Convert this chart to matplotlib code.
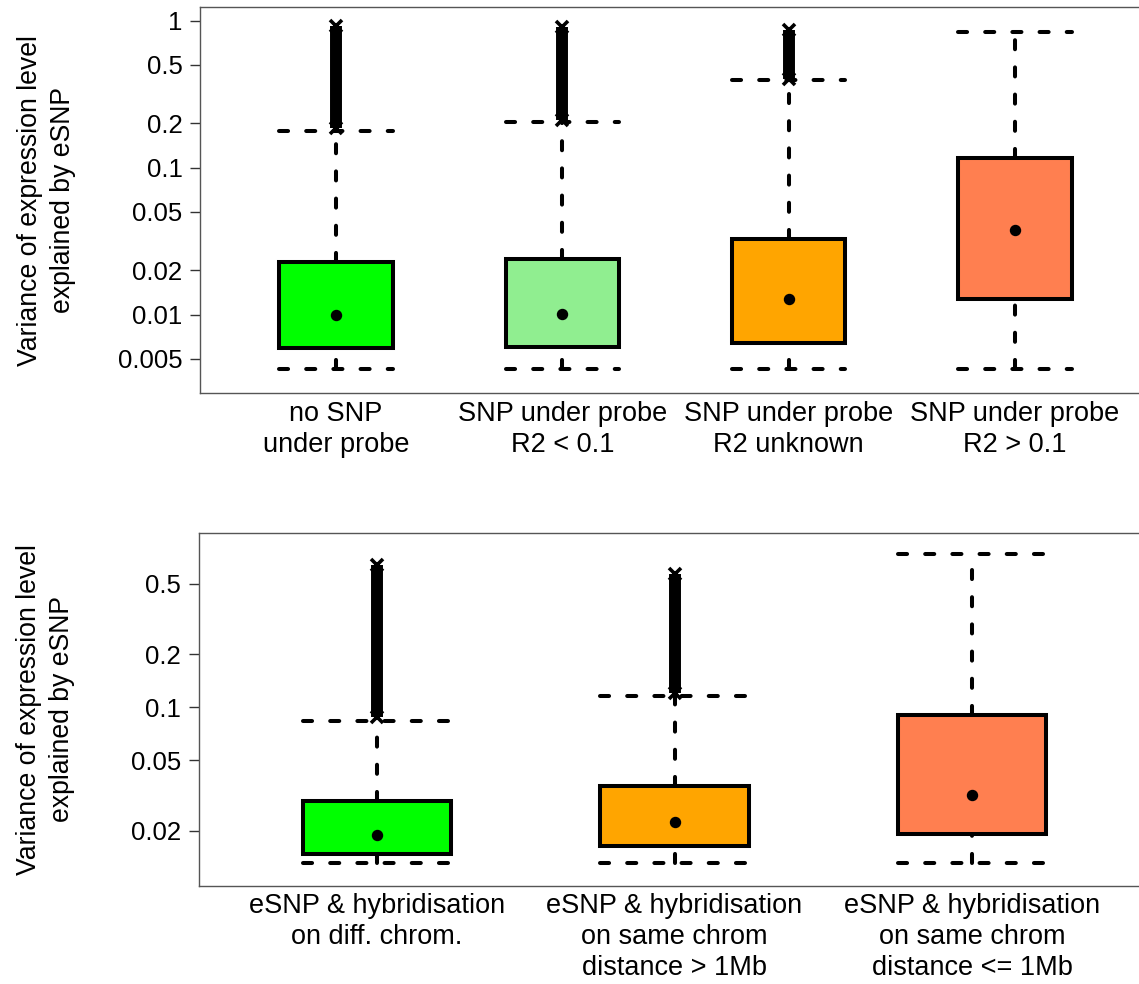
import matplotlib
matplotlib.use("Agg")
import matplotlib.pyplot as plt
from matplotlib.ticker import NullLocator, FixedLocator
import numpy as np

plt.rcParams['font.family'] = ['Liberation Sans', 'DejaVu Sans']

# ---------------- data: top panel ----------------
top_labels = ["no SNP\nunder probe", "SNP under probe\nR2 < 0.1",
              "SNP under probe\nR2 unknown", "SNP under probe\nR2 > 0.1"]
top_colors = ["#00FF00", "#90EE90", "#FFA500", "#FF7F50"]
top_whisker_lo = [0.00425, 0.00430, 0.00430, 0.00425]
top_q1 = [0.00597, 0.00600, 0.00639, 0.0127]
top_median = [0.0100, 0.0101, 0.0127, 0.0377]
top_q3 = [0.0230, 0.0239, 0.0327, 0.116]
top_whisker_hi = [0.178, 0.205, 0.395, 0.834]
top_outlier_lo = [0.185, 0.21, 0.40, None]
top_outlier_hi = [0.92, 0.90, 0.87, None]
top_yticks = [0.005, 0.01, 0.02, 0.05, 0.1, 0.2, 0.5, 1]
top_yticklabels = ["0.005", "0.01", "0.02", "0.05", "0.1", "0.2", "0.5", "1"]

# ---------------- data: bottom panel ----------------
bot_labels = ["eSNP & hybridisation\non diff. chrom.",
              "eSNP & hybridisation\non same chrom\ndistance > 1Mb",
              "eSNP & hybridisation\non same chrom\ndistance <= 1Mb"]
bot_colors = ["#00FF00", "#FFA500", "#FF7F50"]
bot_whisker_lo = [0.0131, 0.0131, 0.0131]
bot_q1 = [0.0148, 0.0164, 0.0191]
bot_median = [0.0190, 0.0225, 0.0317]
bot_q3 = [0.0293, 0.0360, 0.0910]
bot_whisker_hi = [0.084, 0.116, 0.739]
bot_outlier_lo = [0.088, 0.12, None]
bot_outlier_hi = [0.64, 0.57, None]
bot_yticks = [0.02, 0.05, 0.1, 0.2, 0.5]
bot_yticklabels = ["0.02", "0.05", "0.1", "0.2", "0.5"]

YLABEL = "Variance of expression level\nexplained by eSNP"
FS_TICK = 18.5
FS_X = 19.5
FS_Y = 19.2
LW = 2.9
DASH = (0, (2.25, 4.5))
BOXW = 0.5


def draw_panel(ax, labels, colors, wlo, q1, med, q3, whi, olo, ohi,
               yticks, yticklabels, ylim, xlim):
    pos = np.arange(1, len(labels) + 1)
    ax.set_yscale('log')
    for i, x in enumerate(pos):
        # whiskers (dashed) from box to extremes
        ax.plot([x, x], [q3[i], whi[i]], color='black', lw=LW, ls=DASH,
                dash_capstyle='round', zorder=1)
        ax.plot([x, x], [wlo[i], q1[i]], color='black', lw=LW, ls=DASH,
                dash_capstyle='round', zorder=1)
        # staples (dashed, full box width)
        for v in (whi[i], wlo[i]):
            ax.plot([x - BOXW / 2, x + BOXW / 2], [v, v], color='black', lw=LW,
                    ls=DASH, dash_capstyle='round', zorder=1)
        # outliers
        if olo[i] is not None:
            ax.plot([x, x], [olo[i], ohi[i]], color='black', lw=8.6,
                    solid_capstyle='butt', zorder=3)
            ax.plot([x, x], [olo[i], ohi[i]], ls='none', marker='x', ms=9,
                    mew=2.6, color='black', zorder=3)
    # boxes
    ax.bar(pos, np.array(q3) - np.array(q1), bottom=q1, width=BOXW,
           color=colors, edgecolor='black', linewidth=LW, zorder=2)
    # medians as dots
    ax.plot(pos, med, ls='none', marker='o', ms=7.2, color='black', zorder=4)

    ax.set_xlim(*xlim)
    ax.set_ylim(*ylim)
    ax.yaxis.set_major_locator(FixedLocator(yticks))
    ax.set_yticklabels(yticklabels)
    ax.yaxis.set_minor_locator(NullLocator())
    ax.set_xticks(pos)
    ax.set_xticklabels(labels, fontsize=FS_X, linespacing=1.25)
    ax.tick_params(axis='y', length=7.2, width=1.0, color='#333333',
                   labelsize=FS_TICK, pad=5.5)
    ax.tick_params(axis='x', length=0, pad=5.5)
    for s in ax.spines.values():
        s.set_color('#555555')
        s.set_linewidth(1.0)


fig = plt.figure(figsize=(11.39, 9.84), dpi=100)

ax1 = fig.add_axes([0.1758, 0.6003, 0.8345, 0.3923])
draw_panel(ax1, top_labels, top_colors, top_whisker_lo, top_q1, top_median,
           top_q3, top_whisker_hi, top_outlier_lo, top_outlier_hi,
           top_yticks, top_yticklabels, (0.00292, 1.234), (0.4, 4.6))
ax1.set_ylabel(YLABEL, fontsize=FS_Y, ha='center', va='center', linespacing=1.35)
ax1.yaxis.set_label_coords(-0.1617, 0.5)

ax2 = fig.add_axes([0.1743, 0.0999, 0.8358, 0.3587])
draw_panel(ax2, bot_labels, bot_colors, bot_whisker_lo, bot_q1, bot_median,
           bot_q3, bot_whisker_hi, bot_outlier_lo, bot_outlier_hi,
           bot_yticks, bot_yticklabels, (0.00978, 0.972), (0.4, 3.6))
ax2.set_ylabel(YLABEL, fontsize=FS_Y, ha='center', va='center', linespacing=1.35)
ax2.yaxis.set_label_coords(-0.1612, 0.5)

fig.savefig("out.png", dpi=100)
